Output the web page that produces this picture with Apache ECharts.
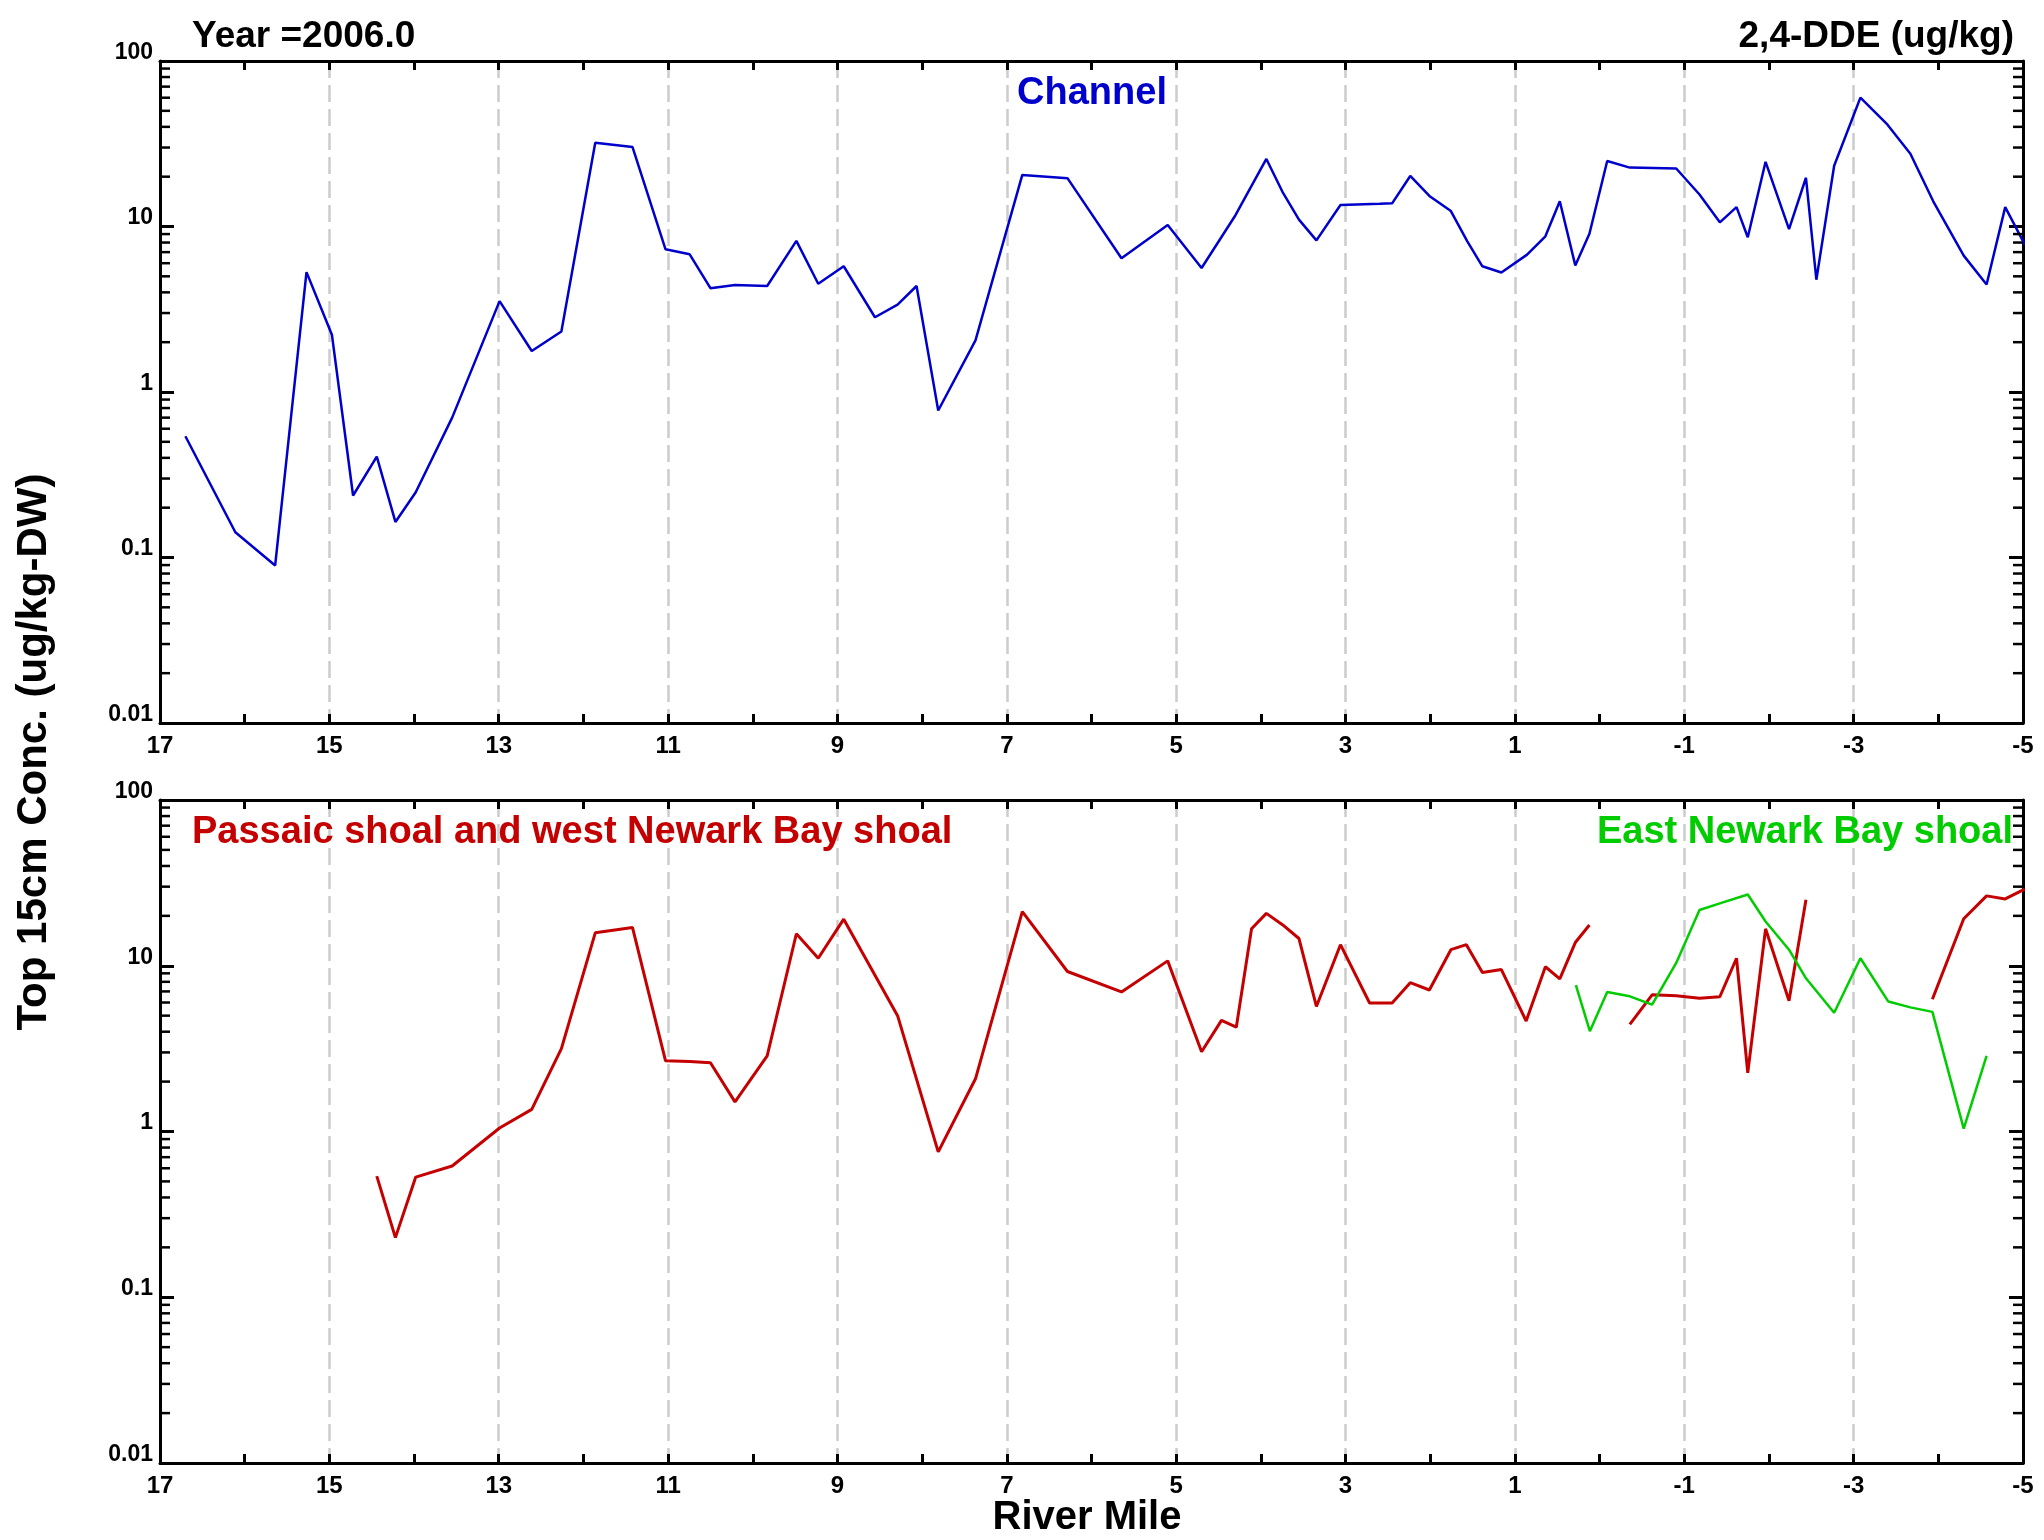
<!DOCTYPE html>
<html>
<head>
<meta charset="utf-8">
<title>2,4-DDE 2006</title>
<script src="https://cdn.jsdelivr.net/npm/echarts@6/dist/echarts.min.js"></script>
<style>
  html, body { margin: 0; padding: 0; background: #fff; }
  #chart { width: 2044px; height: 1540px; }
</style>
</head>
<body>
<div id="chart"></div>
<script>
// river mile (x) and concentration ug/kg (y)
const channelMile = [16.70, 16.11, 15.64, 15.27, 14.97, 14.72, 14.44, 14.22, 13.98, 13.55,
  12.99, 12.61, 12.26, 11.86, 11.42, 11.03, 10.745, 10.50, 10.21, 9.83,
  9.485, 9.227, 8.926, 8.557, 8.29, 8.066, 7.81, 7.37, 6.817, 6.284,
  5.646, 5.10, 4.70, 4.30, 3.935, 3.745, 3.55, 3.344, 3.06, 2.595,
  2.45, 2.236, 2.01, 1.756, 1.562, 1.384, 1.16, 0.856, 0.64, 0.47,
  0.287, 0.12, -0.09, -0.357, -0.905, -1.18, -1.42, -1.617, -1.75, -1.96,
  -2.237, -2.437, -2.56, -2.77, -3.08, -3.40, -3.67, -3.94, -4.30, -4.57,
  -4.79, -5.02, -5.18]
const channelConc = [0.54, 0.142, 0.0895, 5.3, 2.22, 0.237, 0.407, 0.164, 0.248, 0.70,
  3.54, 1.77, 2.32, 32.1, 30.2, 7.28, 6.79, 4.24, 4.43, 4.37,
  8.18, 4.51, 5.75, 2.83, 3.37, 4.37, 0.773, 2.05, 20.5, 19.6,
  6.43, 10.2, 5.61, 11.7, 25.6, 16.2, 11.0, 8.24, 13.5, 13.7,
  13.8, 20.2, 15.3, 12.4, 8.14, 5.75, 5.27, 6.76, 8.72, 14.2,
  5.82, 9.05, 24.9, 22.7, 22.4, 15.6, 10.6, 13.1, 8.61, 24.6,
  9.63, 19.7, 4.77, 23.3, 60.1, 41.2, 27.5, 14.2, 6.67, 4.46,
  13.1, 7.80, 12.3]

// null = gap in the line
const westMile = [14.44, 14.22, 13.98, 13.55, 12.99, 12.61, 12.26, 11.86, 11.42, 11.03,
  10.745, 10.50, 10.21, 9.83, 9.485, 9.227, 8.926, 8.29, 7.81, 7.37,
  6.817, 6.284, 5.646, 5.10, 4.70, 4.465, 4.29, 4.11, 3.935, 3.745,
  3.55, 3.344, 3.06, 2.716, 2.45, 2.236, 2.01, 1.756, 1.573, 1.384,
  1.16, 0.867, 0.64, 0.47, 0.287, 0.12, -0.1,
  -0.357, -0.62, -0.905, -1.18, -1.42, -1.617, -1.75, -1.96, -2.237, -2.437, -3.0,
  -3.93, -4.30, -4.57, -4.79, -5.02]
const westConc = [0.538, 0.229, 0.531, 0.619, 1.05, 1.36, 3.16, 15.8, 17.0, 2.67,
  2.64, 2.60, 1.51, 2.86, 15.6, 11.1, 19.1, 5.0, 0.753, 2.08,
  21.2, 9.23, 6.95, 10.7, 3.03, 4.68, 4.26, 16.7, 20.7, 17.7,
  14.6, 5.68, 13.4, 5.96, 5.96, 7.9, 7.14, 12.5, 13.4, 9.1,
  9.48, 4.64, 9.86, 8.34, 13.8, 17.6, null,
  4.43, 6.68, 6.59, 6.37, 6.50, 11.1, 2.26, 16.7, 6.15, 25.0, null,
  6.28, 19.2, 26.4, 25.3, 29.0]

const eastMile = [0.28, 0.115, -0.09, -0.357, -0.62, -0.905, -1.18, -1.42, -1.75, -1.96,
  -2.237, -2.437, -2.77, -3.08, -3.41, -3.67, -3.93, -4.30, -4.57]
const eastConc = [7.64, 4.03, 6.95, 6.54, 5.83, 10.4, 21.7, 23.8, 26.9, 18.5,
  12.5, 8.4, 5.2, 11.1, 6.08, 5.61, 5.27, 1.04, 2.86]

const mileStart = 17   // left edge of the x axis
const mileSpan = 22    // 17 .. -5
const yTickLabels = ['0.01', '0.1', '1', '10', '100']
const yMinorTicks = [0.02, 0.03, 0.04, 0.05, 0.06, 0.07, 0.08, 0.09,
  0.2, 0.3, 0.4, 0.5, 0.6, 0.7, 0.8, 0.9,
  2, 3, 4, 5, 6, 7, 8, 9,
  20, 30, 40, 50, 60, 70, 80, 90]

const FONT = "'Liberation Sans', Arial, Helvetica, sans-serif"
const BLUE = '#0000cc'
const RED = '#c40000'
const GREEN = '#00cc00'

function toPoints(miles, conc) {
  return miles.map((m, i) => [mileStart - m, conc[i] == null ? '-' : conc[i]])
}

function xAxisBottom(gridIndex) {
  return {
    type: 'value', gridIndex: gridIndex, position: 'bottom',
    min: 0, max: mileSpan, interval: 2,
    axisLine: { onZero: false, lineStyle: { color: '#000', width: 3 } },
    axisTick: { inside: true, length: 9, lineStyle: { color: '#000', width: 3 } },
    minorTick: { show: true, splitNumber: 2, length: 9, lineStyle: { color: '#000', width: 3 } },
    axisLabel: {
      margin: 11, fontSize: 24, fontWeight: 'bold', color: '#000', fontFamily: FONT,
      formatter: function (v) { return String(mileStart - v) }
    },
    splitLine: { show: true, lineStyle: { color: '#cccccc', width: 2.5, type: [17, 7] } }
  }
}

function xAxisTop(gridIndex) {
  return {
    type: 'value', gridIndex: gridIndex, position: 'top',
    min: 0, max: mileSpan, interval: 2,
    axisLine: { onZero: false, lineStyle: { color: '#000', width: 3 } },
    axisTick: { inside: true, length: 9, lineStyle: { color: '#000', width: 3 } },
    minorTick: { show: true, splitNumber: 2, length: 9, lineStyle: { color: '#000', width: 3 } },
    axisLabel: { show: false },
    splitLine: { show: false }
  }
}

function yAxisSide(gridIndex, side) {
  return {
    type: 'log', logBase: 10, gridIndex: gridIndex, position: side,
    min: 0.01, max: 100,
    axisLine: { onZero: false, lineStyle: { color: '#000', width: 3 } },
    axisTick: { inside: true, length: 14, lineStyle: { color: '#000', width: 3 } },
    axisLabel: {
      show: side === 'left',
      margin: 7, fontSize: 23, fontWeight: 'bold', color: '#000', fontFamily: FONT,
      verticalAlign: 'bottom', lineHeight: 17,
      formatter: function (v) { return yTickLabels[Math.round(Math.log10(v)) + 2] }
    },
    splitLine: { show: false }
  }
}

function minorTickSeries(axisIndex) {
  return {
    type: 'custom',
    xAxisIndex: axisIndex, yAxisIndex: axisIndex,
    silent: true, z: 5,
    data: yMinorTicks.map(v => [1, v]),
    renderItem: function (params, api) {
      const cs = params.coordSys
      const y = api.coord([1, api.value(1)])[1]
      const st = { stroke: '#000', lineWidth: 2.5 }
      return {
        type: 'group',
        children: [
          { type: 'line', shape: { x1: cs.x, y1: y, x2: cs.x + 10, y2: y }, style: st },
          { type: 'line', shape: { x1: cs.x + cs.width, y1: y, x2: cs.x + cs.width - 10, y2: y }, style: st }
        ]
      }
    }
  }
}

function textEl(text, x, y, size, color, align, rotation) {
  return {
    type: 'text', x: x, y: y, rotation: rotation || 0, z: 10,
    style: {
      text: text, fill: color, font: 'bold ' + size + 'px ' + FONT,
      align: align, verticalAlign: 'middle'
    }
  }
}

const chart = echarts.init(document.getElementById('chart'))

const option = {
  animation: false,
  backgroundColor: '#fff',
  grid: [
    { left: 160, top: 61, width: 1863, height: 662, outerBoundsMode: 'none' },
    { left: 160, top: 800, width: 1863, height: 663, outerBoundsMode: 'none' }
  ],
  xAxis: [xAxisBottom(0), xAxisTop(0), xAxisBottom(1), xAxisTop(1)],
  yAxis: [yAxisSide(0, 'left'), yAxisSide(0, 'right'), yAxisSide(1, 'left'), yAxisSide(1, 'right')],
  series: [
    {
      name: 'Channel', type: 'line', xAxisIndex: 0, yAxisIndex: 0,
      data: toPoints(channelMile, channelConc),
      showSymbol: false, symbol: 'none', clip: false,
      lineStyle: { color: BLUE, width: 2.5 }
    },
    {
      name: 'Passaic shoal and west Newark Bay shoal', type: 'line', xAxisIndex: 2, yAxisIndex: 2,
      data: toPoints(westMile, westConc),
      showSymbol: false, symbol: 'none', clip: false, connectNulls: false,
      lineStyle: { color: RED, width: 3 }
    },
    {
      name: 'East Newark Bay shoal', type: 'line', xAxisIndex: 2, yAxisIndex: 2,
      data: toPoints(eastMile, eastConc),
      showSymbol: false, symbol: 'none', clip: false,
      lineStyle: { color: GREEN, width: 2.5 }
    },
    minorTickSeries(0),
    minorTickSeries(2)
  ],
  graphic: [
    textEl('Year =2006.0', 192, 37, 37, '#000', 'left'),
    textEl('2,4-DDE (ug/kg)', 2014, 37, 37, '#000', 'right'),
    textEl('Channel', 1092, 94, 38, BLUE, 'center'),
    textEl('Passaic shoal and west Newark Bay shoal', 192, 833, 38, RED, 'left'),
    textEl('East Newark Bay shoal', 2013, 833, 38, GREEN, 'right'),
    textEl('River Mile', 1087, 1518, 40, '#000', 'center'),
    textEl('Top 15cm Conc. (ug/kg-DW)', 34, 752, 42, '#000', 'center', Math.PI / 2)
  ]
}

option && chart.setOption(option)
</script>
</body>
</html>
